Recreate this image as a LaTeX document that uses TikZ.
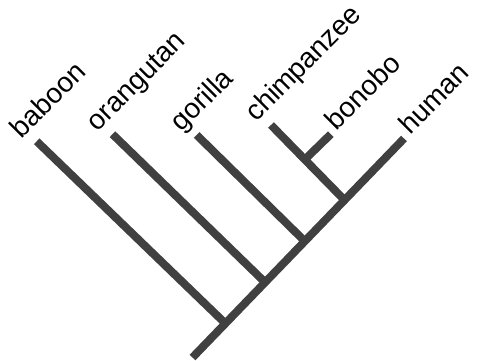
\documentclass[tikz,border=0pt]{standalone}
\usepackage{fontspec}
\setmainfont{Liberation Sans}
\usetikzlibrary{calc}
\definecolor{branchgray}{HTML}{404040}

\begin{document}
\begin{tikzpicture}[x=1pt,y=-1pt,
    branch/.style={draw=branchgray,line width=8pt},
    taxon/.style={rotate=45,anchor=base west,inner sep=0pt,font=\fontsize{28}{30}\selectfont}]

  \useasboundingbox (0,0) rectangle (477,361);

  % main stem and the points where the clades branch off
  \coordinate (root)  at (192.5,357.5);
  \coordinate (human) at (404,138.5);
  \coordinate (jbab) at ($(root)!0.1554!(human)$);
  \coordinate (jora) at ($(root)!0.3432!(human)$);
  \coordinate (jgor) at ($(root)!0.5309!(human)$);
  \coordinate (jchi) at ($(root)!0.7187!(human)$);

  % leaf tips
  \coordinate (tbab) at (36.7,141.3);
  \coordinate (tora) at (112.5,134.2);
  \coordinate (tgor) at (196.7,135);
  \coordinate (tchi) at (271,125);
  \coordinate (tbon) at (330.8,134.2);
  \coordinate (jbon) at ($(tchi)!0.46!(jchi)$);

  \draw[branch] (root) -- (human);
  \draw[branch] (tbab) -- (jbab);
  \draw[branch] (tora) -- (jora);
  \draw[branch] (tgor) -- (jgor);
  \draw[branch] (tchi) -- (jchi);
  \draw[branch] (tbon) -- (jbon);

  \node[taxon] (lbab) at ($(tbab)+(-15,-2)$) {baboon};
  \node[taxon] (lora) at ($(tora)+(-15,-2)$) {orangutan};
  \node[taxon] (lgor) at ($(tgor)+(-15,-2)$) {gorilla};
  \node[taxon] (lchi) at ($(tchi)+(-15,-2)$) {chimpanzee};
  \node[taxon] (lbon) at ($(tbon)+(6,-3)$) {bonobo};
  \node[taxon] (lhum) at ($(human)+(6,-3)$) {human};

\end{tikzpicture}
\end{document}
